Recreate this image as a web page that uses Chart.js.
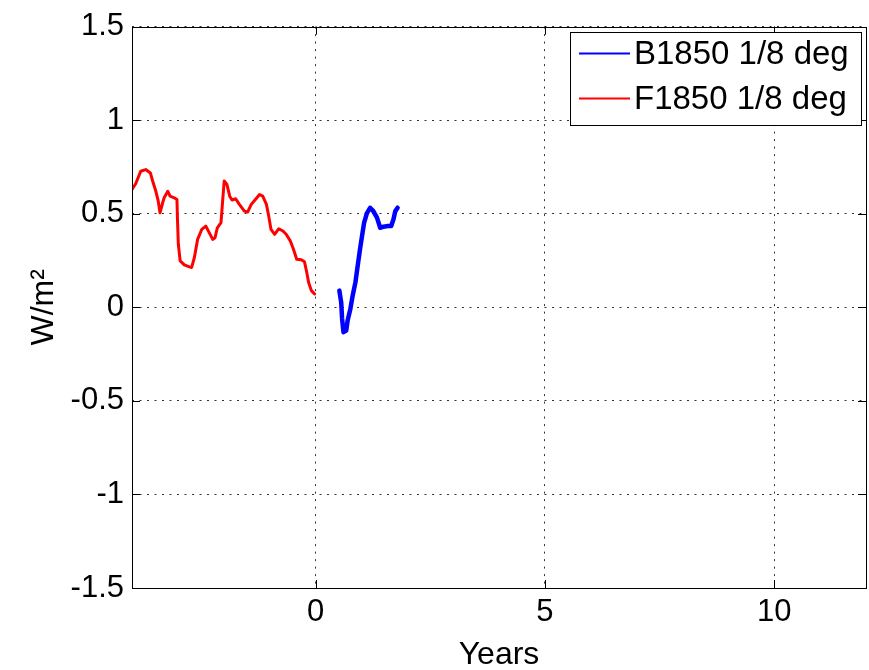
<!DOCTYPE html>
<html>
<head>
<meta charset="utf-8">
<script src="https://cdn.jsdelivr.net/npm/chart.js@4.4.0/dist/chart.umd.min.js"></script>
<style>
html,body{margin:0;padding:0;background:#fff;}
#wrap{width:869px;height:670px;position:relative;}
</style>
</head>
<body>
<div id="wrap"><canvas id="c" width="869" height="670"></canvas></div>
<script>
// ---- data ----
const seriesNames = ['B1850 1/8 deg', 'F1850 1/8 deg'];

const b1850Years = [0.52,0.56,0.58,0.61,0.67,0.70,0.76,0.81,0.87,0.92,0.97,1.02,1.06,1.12,1.19,1.26,1.34,1.41,1.48,1.58,1.65,1.70,1.74,1.79];
const b1850Flux  = [0.089,0.027,-0.062,-0.133,-0.124,-0.071,-0.009,0.062,0.133,0.222,0.31,0.39,0.452,0.502,0.532,0.514,0.479,0.425,0.431,0.434,0.434,0.47,0.514,0.532];

const f1850Years = [-4.00,-3.92,-3.81,-3.70,-3.60,-3.55,-3.48,-3.43,-3.39,-3.33,-3.30,-3.22,-3.17,-3.08,-3.02,-3.01,-2.99,-2.95,-2.86,-2.75,-2.70,-2.64,-2.57,-2.48,-2.39,-2.32,-2.24,-2.19,-2.14,-2.06,-2.03,-1.99,-1.93,-1.87,-1.82,-1.74,-1.66,-1.55,-1.48,-1.40,-1.31,-1.22,-1.15,-1.07,-1.02,-0.97,-0.89,-0.80,-0.71,-0.64,-0.55,-0.48,-0.41,-0.31,-0.24,-0.19,-0.15,-0.09,-0.02];
const f1850Flux  = [0.63,0.66,0.727,0.736,0.718,0.675,0.62,0.57,0.505,0.56,0.585,0.62,0.594,0.585,0.576,0.48,0.337,0.248,0.227,0.216,0.213,0.266,0.363,0.416,0.434,0.40,0.363,0.372,0.425,0.452,0.55,0.675,0.656,0.594,0.573,0.58,0.55,0.514,0.509,0.55,0.576,0.603,0.594,0.55,0.488,0.416,0.39,0.42,0.408,0.39,0.355,0.31,0.257,0.254,0.243,0.186,0.133,0.089,0.071];

const xTickValues = [0, 5, 10];
const yTickValues = [-1.5, -1, -0.5, 0, 0.5, 1, 1.5];
const xLabel = 'Years';
const yLabel = 'W/m²';
const xRange = [-4, 12];
const yRange = [-1.5, 1.5];

// ---- chart ----
const FONT = 'Liberation Sans, Arial, Helvetica, sans-serif';
const toPts = (xs, ys) => xs.map((x, i) => ({x, y: ys[i]}));

const frameAndLegend = {
  id: 'frameAndLegend',
  afterDraw(chart) {
    const {ctx, chartArea: a, scales: {x, y}} = chart;
    ctx.save();
    ctx.setLineDash([]);
    ctx.strokeStyle = '#000';
    ctx.lineWidth = 1;
    const tl = 8;
    ctx.beginPath();
    x.ticks.forEach(t => {
      const px = Math.round(x.getPixelForValue(t.value)) + 0.5;
      ctx.moveTo(px, a.bottom); ctx.lineTo(px, a.bottom - tl);
      ctx.moveTo(px, a.top); ctx.lineTo(px, a.top + tl);
    });
    y.ticks.forEach(t => {
      const py = Math.round(y.getPixelForValue(t.value)) + 0.5;
      ctx.moveTo(a.left, py); ctx.lineTo(a.left + tl, py);
      ctx.moveTo(a.right, py); ctx.lineTo(a.right - tl, py);
    });
    ctx.stroke();
    ctx.strokeRect(Math.round(a.left) + 0.5, Math.round(a.top) + 0.5,
                   Math.round(a.right - a.left), Math.round(a.bottom - a.top));

    // legend box (top-right, inside the axes)
    const bx = 570.5, by = 32.5, bw = 291, bh = 93;
    ctx.fillStyle = '#fff';
    ctx.fillRect(bx, by, bw, bh);
    ctx.strokeRect(bx, by, bw, bh);
    ctx.font = '33px ' + FONT;
    ctx.textBaseline = 'middle';
    ctx.textAlign = 'left';
    chart.data.datasets.forEach((ds, i) => {
      const ly = by + 21 + i * 45;
      ctx.strokeStyle = ds.borderColor;
      ctx.lineWidth = 2;
      ctx.beginPath();
      ctx.moveTo(579, ly); ctx.lineTo(630, ly);
      ctx.stroke();
      ctx.fillStyle = '#000';
      ctx.fillText(ds.label, 634, ly + 1);
    });
    ctx.restore();
  }
};

new Chart(document.getElementById('c'), {
  type: 'line',
  data: {
    datasets: [
      {label: seriesNames[0], data: toPts(b1850Years, b1850Flux), borderColor: '#0000ff', borderWidth: 4.5},
      {label: seriesNames[1], data: toPts(f1850Years, f1850Flux), borderColor: '#ff0000', borderWidth: 3}
    ]
  },
  options: {
    responsive: false,
    animation: false,
    devicePixelRatio: 1,
    layout: {padding: {top: 22, right: 3, left: 0, bottom: 0}},
    elements: {point: {radius: 0}, line: {tension: 0, borderJoinStyle: 'round', borderCapStyle: 'round'}},
    plugins: {legend: {display: false}, tooltip: {enabled: false}, title: {display: false}},
    scales: {
      x: {
        type: 'linear',
        min: xRange[0], max: xRange[1],
        afterBuildTicks: s => { s.ticks = xTickValues.map(v => ({value: v})); },
        afterFit: s => { s.height = 82; },
        ticks: {font: {family: FONT, size: 31}, color: '#000', padding: 6, maxRotation: 0, autoSkip: false,
                callback: v => String(v)},
        grid: {color: '#333', lineWidth: 1, drawTicks: false},
        border: {display: false, dash: [2, 5.5]},
        title: {display: true, text: xLabel, color: '#000', font: {family: FONT, size: 32, lineHeight: 1},
                padding: {top: 0, bottom: -1}}
      },
      y: {
        type: 'linear',
        min: yRange[0], max: yRange[1],
        afterBuildTicks: s => { s.ticks = yTickValues.map(v => ({value: v})); },
        afterFit: s => { s.width = 132; },
        ticks: {font: {family: FONT, size: 31}, color: '#000', padding: 8, autoSkip: false,
                callback: v => String(v)},
        grid: {color: '#333', lineWidth: 1, drawTicks: false},
        border: {display: false, dash: [2, 5.5]},
        title: {display: true, text: yLabel, color: '#000', font: {family: FONT, size: 32, lineHeight: 1},
                padding: {top: 28, bottom: 0}}
      }
    }
  },
  plugins: [frameAndLegend]
});
</script>
</body>
</html>
